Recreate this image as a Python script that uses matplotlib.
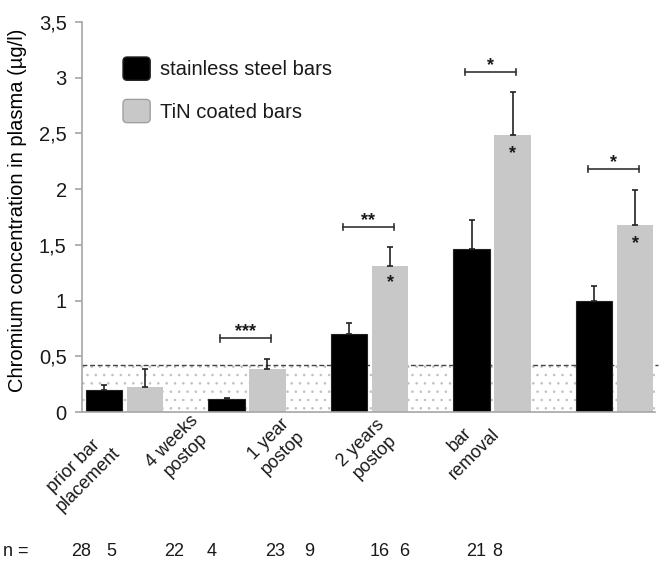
import numpy as np
import matplotlib.pyplot as plt
from matplotlib.patches import FancyBboxPatch, Patch
from matplotlib.legend_handler import HandlerPatch

plt.rcParams['font.family'] = ['Liberation Sans', 'DejaVu Sans']
plt.rcParams['text.color'] = '#1a1a1a'
plt.rcParams['hatch.linewidth'] = 0.6

# data
groups = ['prior bar\nplacement', '4 weeks\npostop', '1 year\npostop',
          '2 years\npostop', 'bar\nremoval']
steel = [0.20, 0.12, 0.70, 1.46, 1.00]
steel_err = [0.04, 0.01, 0.10, 0.26, 0.13]
tin = [0.225, 0.39, 1.31, 2.49, 1.68]
tin_err = [0.165, 0.09, 0.17, 0.38, 0.31]
n_steel = [28, 22, 23, 16, 21]
n_tin = [5, 4, 9, 6, 8]
limit = 0.42
# brackets between the two bars: (group, height, stars)
brackets = [(1, 0.66, '***'), (2, 1.66, '**'), (3, 3.05, '*'), (4, 2.18, '*')]
# stars inside the TiN bars: (group, height)
inner_stars = [(2, 1.19), (3, 2.35), (4, 1.54)]
yticks = [0, 0.5, 1, 1.5, 2, 2.5, 3, 3.5]
ytick_labels = ['0', '0,5', '1', '1,5', '2', '2,5', '3', '3,5']

W, H = 666, 567
FS = 14.5
fig = plt.figure(figsize=(W / 100, H / 100), dpi=100)
ax = fig.add_axes([82 / W, 1 - 412 / H, (655 - 82) / W, 390 / H])

x = np.arange(len(groups))
off = 0.167
bw = 0.30

# dotted reference area + dashed limit
ax.axhspan(0, limit, facecolor='none', edgecolor='#c0c0c0', hatch='..',
           linewidth=0, zorder=0)
ax.axhline(limit, xmax=1.006, color='#444444', lw=1, ls=(0, (3.5, 2)),
           clip_on=False, zorder=1)

ax.bar(x - off, steel, bw, color='black', edgecolor='#222222', lw=0.8, zorder=2)
ax.bar(x + off, tin, bw, color='#c8c8c8', zorder=2)
ax.errorbar(x - off, steel, yerr=[np.zeros(len(x)), steel_err], fmt='none',
            ecolor='#222222', elinewidth=1.2, capsize=2.5, capthick=1.2, zorder=3)
ax.errorbar(x + off, tin, yerr=[np.zeros(len(x)), tin_err], fmt='none',
            ecolor='#222222', elinewidth=1.2, capsize=2.5, capthick=1.2, zorder=3)

for i, h, s in brackets:
    x0, x1 = i - off - 0.05, i + off + 0.03
    ax.plot([x0, x1], [h, h], color='#333333', lw=1.2)
    ax.plot([x0, x0], [h - 0.03, h + 0.03], color='#333333', lw=1.2)
    ax.plot([x1, x1], [h - 0.03, h + 0.03], color='#333333', lw=1.2)
    ax.text((x0 + x1) / 2, h + 0.06, s, ha='center', va='center',
            fontsize=13, fontweight='bold')

for i, h in inner_stars:
    ax.text(i + off, h - 0.03, '*', ha='center', va='center', fontsize=13,
            fontweight='bold')

ax.set_xlim(-0.347, 4.33)
ax.set_ylim(0, 3.5)
ax.set_yticks(yticks)
ax.set_yticklabels(ytick_labels)
for side in ['top', 'right']:
    ax.spines[side].set_visible(False)
for side in ['left', 'bottom']:
    ax.spines[side].set_color('#a6a6a6')
    ax.spines[side].set_linewidth(1.2)
ax.tick_params(axis='y', length=5, color='#a6a6a6', width=1.2, pad=6,
               labelsize=FS, labelcolor='#1a1a1a')
ax.tick_params(axis='x', bottom=False, labelbottom=False)
ax.set_ylabel('Chromium concentration in plasma (µg/l)', fontsize=FS)
ax.yaxis.set_label_coords(-0.096, 0.516)


def rounded(legend, orig_handle, xdescent, ydescent, width, height, fontsize):
    return FancyBboxPatch((-xdescent, -ydescent), width, height,
                          boxstyle='round,pad=0,rounding_size=3')


handles = [Patch(facecolor='black', edgecolor='#222222'),
           Patch(facecolor='#c8c8c8', edgecolor='#a0a0a0')]
ax.legend(handles, ['stainless steel bars', 'TiN coated bars'],
          handler_map={Patch: HandlerPatch(patch_func=rounded)},
          loc='upper left', bbox_to_anchor=(123 / W, 1 - 57 / H),
          bbox_transform=fig.transFigure, frameon=False, borderpad=0,
          borderaxespad=0, handlelength=1.35, handleheight=1.4,
          handletextpad=0.5, labelspacing=0.95, fontsize=FS)

# category labels and n row (placed independently of the bars, as in the original)
label_pos = [(81, 473), (179, 448), (276, 446), (368, 450), (467, 447)]
for (cx, cy), lbl in zip(label_pos, groups):
    fig.text(cx / W, 1 - cy / H, lbl, rotation=45, ha='center', va='center',
             multialignment='center', linespacing=1.2, fontsize=13)

n_y = 1 - 552 / H
fig.text(3 / W, n_y, 'n =', ha='left', va='center', fontsize=13)
n_steel_x = [81, 174.5, 275, 380, 476]
n_tin_x = [111, 212, 309, 404, 497.5]
for px, n in zip(n_steel_x, n_steel):
    fig.text(px / W, n_y, str(n), ha='center', va='center', fontsize=13)
for px, n in zip(n_tin_x, n_tin):
    fig.text(px / W, n_y, str(n), ha='center', va='center', fontsize=13)

fig.savefig('out.png', dpi=100)
